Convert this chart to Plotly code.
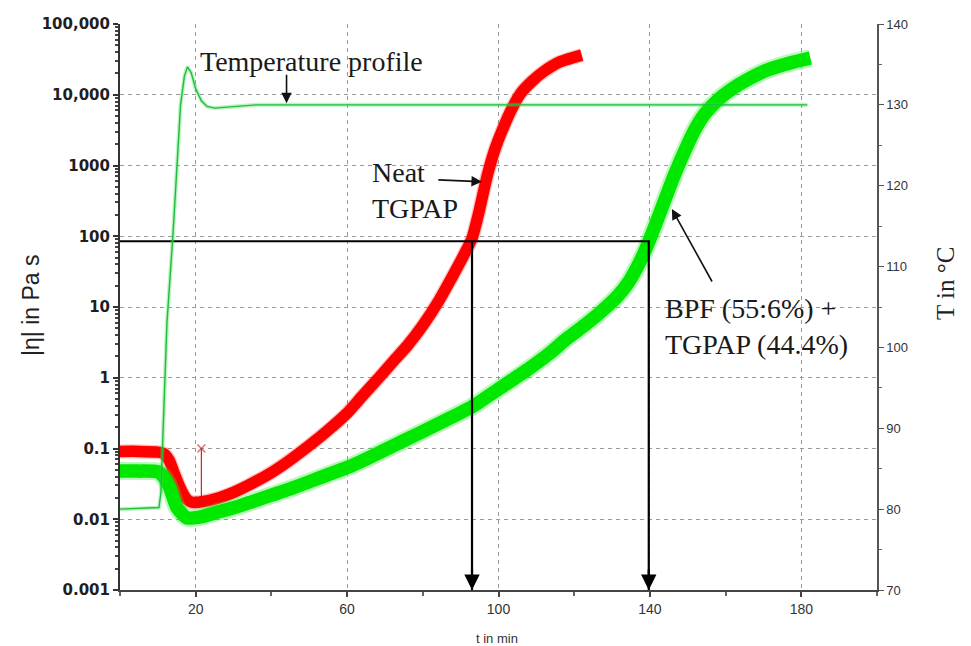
import plotly.graph_objects as go

# Isothermal cure at 130 °C: complex viscosity |eta| (Pa s) against time (min)
t_neat = [0, 5, 10, 11.5, 13, 14.5, 16, 17.5, 19, 22, 26, 30, 35, 40, 45, 50, 55, 60, 64,
          68.4, 72, 76, 80, 84, 88, 91, 93, 95, 97, 99, 101, 103.5, 106, 109, 112, 116, 122]
eta_neat = [0.091, 0.091, 0.089, 0.085, 0.068, 0.042, 0.027, 0.0195, 0.0174, 0.0178, 0.020,
            0.024, 0.0324, 0.0457, 0.0692, 0.110, 0.182, 0.316, 0.550, 1.0, 1.66, 2.88, 5.50,
            11.7, 28.2, 56.2, 93.3, 240, 708, 1660, 3160, 6310, 10700, 15800, 21400, 28800,
            36300]

t_blend = [0, 5, 10, 11.5, 13.2, 15, 17.6, 21, 25, 30, 35, 40, 45, 50, 55, 60, 65, 70, 75,
           80, 86, 93, 100, 107, 113.6, 118, 122.9, 127, 131.6, 134.5, 136.8, 138.5, 140,
           143, 146.5, 150, 152, 154.5, 158, 161.3, 166, 171, 177, 182.4]
eta_blend = [0.0479, 0.0479, 0.0468, 0.0398, 0.0275, 0.0148, 0.0105, 0.0107, 0.0123, 0.0145,
             0.0178, 0.0219, 0.0269, 0.0339, 0.0427, 0.0537, 0.0708, 0.0955, 0.129, 0.174,
             0.251, 0.389, 0.692, 1.23, 2.24, 3.55, 5.62, 8.51, 14.5, 22.9, 38.0, 58.9, 91.2,
             240, 741, 1995, 3311, 5370, 8511, 11700, 16600, 22400, 28200, 33100]

# Oven temperature profile (right axis, °C)
t_temp = [0, 10.3, 10.8, 11.3, 12.4, 14, 15, 16, 17, 17.8, 18.8, 20, 21.5, 23, 25, 28, 32,
          36, 60, 100, 140, 181.6]
temp = [80, 80.2, 82, 88, 103, 114, 122, 130, 133.5, 134.7, 134, 132, 130.5, 129.8, 129.6,
        129.7, 129.85, 130, 130, 130, 130, 130]

# Early measurement spike on the neat resin curve
spike_t = [21.5, 21.5]
spike_eta = [0.1, 0.021]

# Gel point read-off: viscosity level and the two gel times
gel_eta = 85
gel_times = [93, 139.7]

# Axis ticks
y_ticks = [0.001, 0.01, 0.1, 1, 10, 100, 1000, 10000, 100000]
y_ticktext = ["0.001", "0.01", "0.1", "1", "10", "100", "1000", "10,000", "100,000"]
y_minor = [m * 10 ** k for k in range(-3, 5) for m in range(2, 10)]
x_ticks = [20, 60, 100, 140, 180]
x_minor = [0, 40, 80, 120, 160, 200]
t_ticks = [70, 80, 90, 100, 110, 120, 130, 140]
t_minor = [75, 85, 95, 105, 115, 125, 135]

fig = go.Figure()

fig.add_trace(go.Scatter(x=spike_t, y=spike_eta, mode="lines+markers",
                         line=dict(color="rgb(220,30,30)", width=1.2),
                         marker=dict(symbol="x-thin", size=[8, 0],
                                     line=dict(width=1.2, color="rgb(220,30,30)")),
                         hoverinfo="skip"))
fig.add_trace(go.Scatter(x=t_neat, y=eta_neat, mode="lines",
                         line=dict(color="rgba(255,40,40,0.3)", width=14, shape="spline",
                                   smoothing=0.6),
                         hoverinfo="skip"))
fig.add_trace(go.Scatter(x=t_neat, y=eta_neat, mode="lines", name="Neat TGPAP",
                         line=dict(color="rgb(255,0,0)", width=11.5, shape="spline",
                                   smoothing=0.6)))
fig.add_trace(go.Scatter(x=t_blend, y=eta_blend, mode="lines",
                         line=dict(color="rgba(60,235,60,0.35)", width=18, shape="spline",
                                   smoothing=0.6),
                         hoverinfo="skip"))
fig.add_trace(go.Scatter(x=t_blend, y=eta_blend, mode="lines", name="BPF + TGPAP",
                         line=dict(color="rgb(0,232,0)", width=13.5, shape="spline",
                                   smoothing=0.6)))

# Gel point construction lines
gx = [0, gel_times[1], gel_times[1], None, gel_times[0], gel_times[0]]
gy = [gel_eta, gel_eta, y_ticks[0], None, gel_eta, y_ticks[0]]
fig.add_trace(go.Scatter(x=gx, y=gy, mode="lines", line=dict(color="black", width=2.2),
                         hoverinfo="skip"))

fig.add_trace(go.Scatter(x=t_temp, y=temp, mode="lines", yaxis="y2",
                         line=dict(color="rgba(60,220,80,0.35)", width=4), hoverinfo="skip"))
fig.add_trace(go.Scatter(x=t_temp, y=temp, mode="lines", yaxis="y2", name="Temperature",
                         line=dict(color="rgb(30,190,60)", width=1.4)))

grid = dict(gridcolor="#9a9a9a", gridwidth=1, griddash="4px,4px")

fig.update_layout(
    width=971, height=646,
    margin=dict(l=120, r=94, t=24, b=56),
    paper_bgcolor="white", plot_bgcolor="white",
    showlegend=False,
    xaxis=dict(range=[0, 200], tickmode="array", tickvals=x_ticks, showgrid=True, **grid,
               showline=True, linecolor="#444", linewidth=2, ticks="outside", ticklen=5,
               tickcolor="#444", tickwidth=1.5, zeroline=False,
               tickfont=dict(family="Liberation Sans", size=14, color="#333"),
               minor=dict(tickmode="array", tickvals=x_minor, ticks="outside", ticklen=4,
                          tickcolor="#666", showgrid=False)),
    yaxis=dict(type="log", range=[-3, 5], tickmode="array", tickvals=y_ticks,
               ticktext=y_ticktext, showgrid=True, **grid,
               showline=True, linecolor="#333", linewidth=2, ticks="outside", ticklen=5,
               tickcolor="#333", tickwidth=1.5, zeroline=False,
               tickfont=dict(family="DejaVu Sans", size=15, color="#1e1e1e", weight="bold"),
               minor=dict(tickmode="array", tickvals=y_minor, ticks="outside", ticklen=3,
                          tickcolor="#444", showgrid=False)),
    yaxis2=dict(overlaying="y", side="right", range=[70, 140], tickmode="array",
                tickvals=t_ticks, showgrid=False, showline=True, linecolor="#555",
                linewidth=1.5, ticks="outside", ticklen=5, tickcolor="#555", zeroline=False,
                tickfont=dict(family="Liberation Sans", size=13, color="#333"),
                minor=dict(tickmode="array", tickvals=t_minor, ticks="outside", ticklen=3,
                           tickcolor="#666")),
)

serif = dict(family="Liberation Serif", size=28, color="#1a1a1a")

annotations = [
    dict(text="|η| in Pa s", xref="paper", yref="paper", x=-0.1176, y=0.5035,
         textangle=-90, showarrow=False, xanchor="center", yanchor="middle",
         font=dict(family="Liberation Sans", size=23, color="#222")),
    dict(text="T in °C", xref="paper", yref="paper", x=1.0898, y=0.5424,
         textangle=-90, showarrow=False, xanchor="center", yanchor="middle",
         font=dict(family="Liberation Serif", size=25, color="#222")),
    dict(text="t in min", xref="paper", yref="paper", x=0.498, y=-0.085,
         showarrow=False, xanchor="center", yanchor="middle",
         font=dict(family="Liberation Sans", size=13, color="#333")),
    dict(text="Temperature profile", xref="paper", yref="paper", x=0.2536, y=0.933,
         showarrow=False, xanchor="center", yanchor="middle", font=serif),
    dict(text="Neat<br>TGPAP", xref="paper", yref="paper", x=0.3303, y=0.705,
         showarrow=False, xanchor="left", yanchor="middle", align="left", font=serif),
    dict(text="BPF (55:6%) +<br>TGPAP (44.4%)", xref="paper", yref="paper", x=0.7173,
         y=0.4647, showarrow=False, xanchor="left", yanchor="middle", align="left", font=serif),
    # pointer arrows
    dict(x=44, y=130.2, xref="x", yref="y2", ax=0, ay=-30, text="", showarrow=True,
         arrowhead=2, arrowsize=1.3, arrowwidth=1.6, arrowcolor="#111"),
    dict(x=95.6, y=2.77, xref="x", yref="y", ax=-45, ay=-2, text="", showarrow=True,
         arrowhead=2, arrowsize=1.3, arrowwidth=1.6, arrowcolor="#111"),
    dict(x=145.8, y=2.385, xref="x", yref="y", ax=41, ay=74, text="", showarrow=True,
         arrowhead=2, arrowsize=1.3, arrowwidth=1.6, arrowcolor="#111"),
]
for gt in gel_times:
    annotations.append(dict(x=gt, y=-3, xref="x", yref="y", ax=0, ay=-22, text="",
                            showarrow=True, arrowhead=2, arrowsize=1.4, arrowwidth=2.2,
                            arrowcolor="black"))
fig.update_layout(annotations=annotations)

fig.write_html("out.html")
